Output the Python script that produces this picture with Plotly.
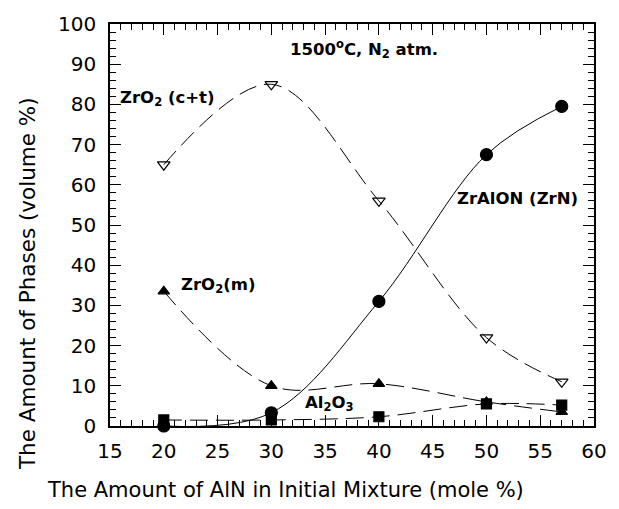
import plotly.graph_objects as go

x_aln = [20, 30, 40, 50, 57]
zro2_ct = [65, 85, 56, 22, 11]
zralon = [0, 3.3, 31, 67.5, 79.5]
zro2_m = [33.5, 10, 10.5, 6, 3.5]
al2o3 = [1.5, 1.5, 2.3, 5.5, 5.2]

x_ticks = [15, 20, 25, 30, 35, 40, 45, 50, 55, 60]
y_ticks = [0, 10, 20, 30, 40, 50, 60, 70, 80, 90, 100]

FONT = "DejaVu Sans"

fig = go.Figure()

def add(y, symbol, dash, size):
    fig.add_trace(go.Scatter(
        x=x_aln, y=y, mode="lines+markers",
        line=dict(color="black", width=1, dash=dash, shape="spline", smoothing=1.0),
        marker=dict(symbol=symbol, size=size, color="black",
                    line=dict(color="black", width=1.2)),
        cliponaxis=False, showlegend=False))

add(zro2_ct, "triangle-down-open", "18px,8px", 11)
add(zralon, "circle", "solid", 12)
add(zro2_m, "triangle-up", "18px,8px", 10)
add(al2o3, "square", "18px,8px", 10)

ann_font = dict(family=FONT, size=16.5, color="black")
labels = [
    (38.6, 93.8, "<b>1500<sup>o</sup>C, N<sub>2</sub> atm.</b>"),
    (20.3, 81.4, "<b>ZrO<sub>2</sub> (c+t)</b>"),
    (52.9, 56.6, "<b>ZrAlON (ZrN)</b>"),
    (25.0, 35.0, "<b>ZrO<sub>2</sub>(m)</b>"),
    (35.4, 5.6, "<b>Al<sub>2</sub>O<sub>3</sub></b>"),
]
for lx, ly, t in labels:
    fig.add_annotation(x=lx, y=ly, text=t, showarrow=False, font=ann_font,
                       xanchor="center", yanchor="middle")

fig.add_annotation(x=0.3616, y=-0.159, xref="paper", yref="paper",
                   text="The Amount of AlN in Initial Mixture (mole %)",
                   showarrow=False, font=dict(family=FONT, size=21, color="black"),
                   xanchor="center", yanchor="middle")
fig.add_annotation(x=-0.170, y=0.355, xref="paper", yref="paper",
                   text="The Amount of Phases (volume %)", textangle=-90,
                   showarrow=False, font=dict(family=FONT, size=21.5, color="black"),
                   xanchor="center", yanchor="middle")

axis_common = dict(
    showline=True, linecolor="black", linewidth=1.5, mirror="allticks",
    ticks="inside", ticklen=11, tickwidth=1, tickcolor="black",
    showgrid=False, zeroline=False,
    tickfont=dict(family=FONT, size=20, color="black"),
)

fig.update_xaxes(range=[15, 60], tickvals=x_ticks, ticktext=[str(v) for v in x_ticks],
                 minor=dict(dtick=1, tick0=15, ticks="inside", ticklen=6, tickwidth=1,
                            tickcolor="black", showgrid=False),
                 ticklabelstandoff=6, **axis_common)
fig.update_yaxes(range=[0, 100], tickvals=y_ticks, ticktext=[str(v) for v in y_ticks],
                 minor=dict(dtick=2, tick0=0, ticks="inside", ticklen=6, tickwidth=1,
                            tickcolor="black", showgrid=False),
                 ticklabelstandoff=8, **axis_common)

fig.update_layout(
    width=619, height=509,
    margin=dict(l=110, r=14, t=23, b=83),
    paper_bgcolor="white", plot_bgcolor="white",
    font=dict(family=FONT, color="black"),
)

fig.write_html("out.html")
